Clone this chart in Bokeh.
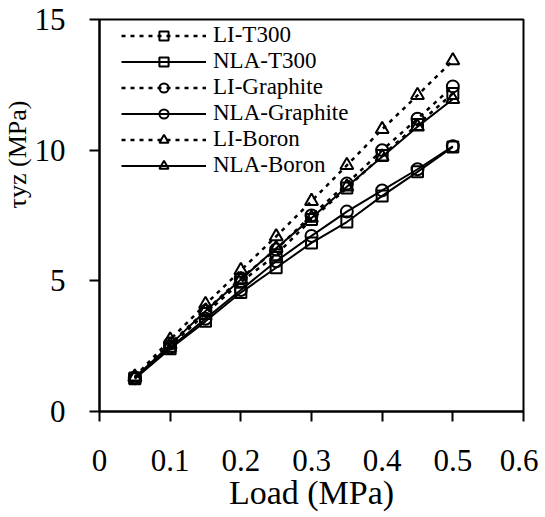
from bokeh.plotting import figure
from bokeh.models import Legend, LegendItem, FixedTicker, Range1d, Title
from bokeh.embed import file_html
from bokeh.resources import INLINE

# ---------------- data ----------------
load = [0.05, 0.10, 0.15, 0.20, 0.25, 0.30, 0.35, 0.40, 0.45, 0.50]

li_t300 = [1.28, 2.50, 3.75, 4.95, 6.00, 7.35, 8.55, 9.80, 10.98, 12.17]
nla_t300 = [1.25, 2.40, 3.45, 4.55, 5.50, 6.45, 7.25, 8.25, 9.17, 10.12]
li_graphite = [1.30, 2.60, 3.85, 5.10, 6.20, 7.50, 8.72, 10.00, 11.20, 12.44]
nla_graphite = [1.27, 2.45, 3.55, 4.65, 5.75, 6.72, 7.65, 8.46, 9.27, 10.15]
li_boron = [1.33, 2.75, 4.10, 5.40, 6.70, 8.05, 9.42, 10.80, 12.10, 13.43]
nla_boron = [1.30, 2.55, 3.85, 5.05, 6.25, 7.40, 8.60, 9.75, 10.90, 11.95]

series_names = ["LI-T300", "NLA-T300", "LI-Graphite", "NLA-Graphite", "LI-Boron", "NLA-Boron"]

x_ticks = [0, 0.1, 0.2, 0.3, 0.4, 0.5, 0.6]
x_tick_labels = ["0", "0.1", "0.2", "0.3", "0.4", "0.5", "0.6"]
y_ticks = [0, 5, 10, 15]
y_tick_labels = ["0", "5", "10", "15"]

x_title = "Load (MPa)"
y_title = "τyz (MPa)"

FONT = "Liberation Serif"

p = figure(
    frame_width=424, frame_height=392,
    min_border_left=98, min_border_top=19, min_border_right=15, min_border_bottom=100,
    x_range=Range1d(0, 0.6), y_range=Range1d(0, 15),
    output_backend="svg", toolbar_location=None,
)
p.background_fill_color = "white"
p.border_fill_color = "white"
p.outline_line_color = "black"
p.outline_line_width = 2
p.grid.visible = False

for ax in (p.xaxis[0], p.yaxis[0]):
    ax.axis_line_width = 2
    ax.axis_line_color = "black"
    ax.major_tick_line_width = 2
    ax.major_tick_line_color = "black"
    ax.major_tick_out = 10
    ax.major_tick_in = 0
    ax.minor_tick_line_color = None
    ax.major_label_text_font = FONT
    ax.major_label_text_font_size = "31px"
    ax.major_label_text_color = "black"

p.xaxis.ticker = FixedTicker(ticks=x_ticks)
p.xaxis.major_label_overrides = {t: s for t, s in zip(x_ticks, x_tick_labels)}
p.yaxis.ticker = FixedTicker(ticks=y_ticks)
p.yaxis.major_label_overrides = {t: s for t, s in zip(y_ticks, y_tick_labels)}
p.xaxis.major_label_standoff = 28
p.yaxis.major_label_standoff = 24

p.xaxis.axis_label = x_title
p.xaxis.axis_label_text_font = FONT
p.xaxis.axis_label_text_font_size = "34px"
p.xaxis.axis_label_text_font_style = "normal"
p.xaxis.axis_label_text_color = "black"
p.xaxis.axis_label_standoff = 0

data = [li_t300, nla_t300, li_graphite, nla_graphite, li_boron, nla_boron]
markers = ["square", "square", "circle", "circle", "triangle", "triangle"]
sizes = [11, 11, 12, 12, 13, 13]
items = []
for name, ys, mk, sz in zip(series_names, data, markers, sizes):
    if name.startswith("LI"):
        ln = p.line(load, ys, line_color="black", line_width=2.5, line_dash="4 5")
    else:
        ln = p.line(load, ys, line_color="black", line_width=2)
    sc = p.scatter(load, ys, marker=mk, size=sz, fill_color=None,
                   line_color="black", line_width=2)
    items.append(LegendItem(label=name, renderers=[ln, sc]))

legend = Legend(
    items=items, location=(22, 233),
    label_text_font=FONT, label_text_font_size="23px", label_text_color="black",
    glyph_width=85, glyph_height=23, label_height=23, label_standoff=7,
    spacing=0, padding=0, margin=0,
    border_line_color=None, background_fill_alpha=0,
)
p.add_layout(legend)

# y-axis title as a side-panel title (not clipped by the frame)
ytitle = Title(text=y_title, align="left", offset=203, standoff=0,
               vertical_align="bottom",
               text_font=FONT, text_font_size="26px", text_font_style="normal",
               text_color="black")
p.add_layout(ytitle, "left")

open("out.html", "w").write(file_html(p, INLINE))
